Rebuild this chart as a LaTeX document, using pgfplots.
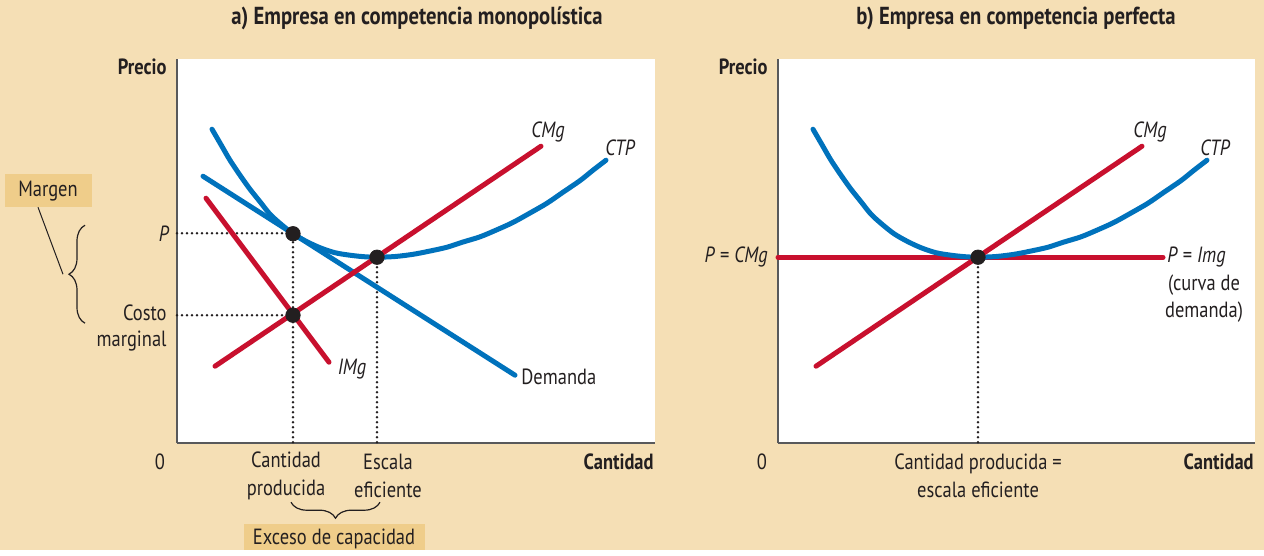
\documentclass[border=0pt]{standalone}
\usepackage{pgfplots}
\pgfplotsset{compat=1.18}
\usepackage{fontspec}
\setmainfont{PT Sans}[FakeStretch=0.84]
\usetikzlibrary{decorations.pathreplacing}

\definecolor{bg}{RGB}{245,223,181}
\definecolor{boxc}{RGB}{239,205,138}
\definecolor{cblue}{RGB}{0,114,188}
\definecolor{cred}{RGB}{200,16,46}
\definecolor{axgray}{RGB}{88,89,91}
\definecolor{txt}{RGB}{35,31,32}

\newcommand{\fs}{\fontsize{11}{14}\selectfont}
\tikzset{
  curve/.style={line width=2.5pt, line cap=round, smooth},
  dotl/.style={draw=txt, line width=1.3pt, dash pattern=on 0pt off 2.5pt, line cap=round},
  tight/.style={inner sep=0pt},
}
\pgfplotsset{
  panel/.style={
    scale only axis, clip=false,
    ymin=107, ymax=491,
    xtick=\empty, ytick=\empty,
    axis x line*=bottom, axis y line*=left,
    axis line style={-, draw=axgray, line width=1pt},
    axis background/.style={fill=white},
  },
  dots/.style={only marks, mark=*, mark size=3.6pt, mark options={fill=txt, draw=txt}},
}

\begin{document}
\begin{tikzpicture}[font=\fs, text=txt]
\fill[bg] (0,0) rectangle (632pt,275pt);

% ---- a) competencia monopolistica ----
\begin{axis}[panel, at={(88.5pt,53.5pt)}, anchor=south west,
    width=239pt, height=192pt, xmin=177, xmax=655]

\draw[dotl] (axis cs:177,317) -- (axis cs:293,317) -- (axis cs:293,107);
\draw[dotl] (axis cs:177,235) -- (axis cs:293,235);
\draw[dotl] (axis cs:377,293) -- (axis cs:377,107);

% demanda
\addplot[curve, cblue] coordinates {(203,374) (515,175)};
% CTP
\addplot[curve, cblue] coordinates {
  (212,421) (221,405.5) (230,390) (240,375) (250,361) (260,348.5) (270,336)
  (281,326) (293,316.5) (306,309) (320,302.5) (335,297.5) (350,295) (364,293.5)
  (377,293) (395,293.7) (413,295.9) (430,299.2) (447,303) (463,308.2) (480,313.4)
  (497,320.5) (513,327.8) (530,337.2) (547,347) (563,358) (580,369.6) (593,380)
  (606,390)};
% CMg
\addplot[curve, cred] coordinates {(215,184) (541,404)};
% IMg
\addplot[curve, cred] coordinates {(206,352) (329,188)};
% puntos
\addplot[dots] coordinates {(293,316.5) (293,235) (377,293)};

\node[font=\fs\itshape] at (axis cs:548,418) {CMg};
\node[font=\fs\itshape] at (axis cs:620,402) {CTP};
\node[font=\fs\itshape] at (axis cs:352,181) {IMg};
\node[tight, anchor=west] at (axis cs:521,173) {Demanda};

\node[tight, anchor=east, font=\fs\bfseries] at (axis cs:167,483) {Precio};
\node[tight, anchor=east, font=\fs\itshape] at (axis cs:169,317) {P};
\node[tight, anchor=east, align=right, font=\fontsize{11}{13}\selectfont] at (axis cs:167,222) {Costo\\marginal};
\node at (axis cs:160,88) {0};
\node[align=center] at (axis cs:286,74) {Cantidad\\producida};
\node[align=center] at (axis cs:388,74) {Escala\\eficiente};
\node[tight, anchor=east, font=\fs\bfseries] at (axis cs:654,88) {Cantidad};

\node[font=\fontsize{12.3}{14}\selectfont\bfseries] at (axis cs:417,532)
  {a) Empresa en competencia monopolística};

% margen
\fill[boxc] (axis cs:5,343) rectangle (axis cs:92,376);
\node at (axis cs:48,359) {Margen};
\draw[txt, line width=0.5pt] (axis cs:38,343) -- (axis cs:63,276);
\draw[txt, line width=0.6pt, decorate, decoration={brace, amplitude=8pt}]
  (axis cs:85,227) -- (axis cs:85,325);

% exceso de capacidad
\draw[txt, line width=0.6pt, decorate, decoration={brace, amplitude=8pt}]
  (axis cs:380,48) -- (axis cs:291,48);
\fill[boxc] (axis cs:244,0) rectangle (axis cs:425,26);
\node at (axis cs:334,11) {Exceso de capacidad};
\end{axis}

% ---- b) competencia perfecta ----
\begin{axis}[panel, at={(389pt,53.5pt)}, anchor=south west,
    width=238.5pt, height=192pt, xmin=778, xmax=1255]

\draw[dotl] (axis cs:978,293) -- (axis cs:978,107);

% P = Img
\addplot[curve, cred] coordinates {(778,293) (1163,293)};
% CTP
\addplot[curve, cblue] coordinates {
  (813,421) (822,405.5) (831,390) (841,375) (851,361) (861,348.5) (871,336)
  (882,326) (894,316.5) (907,309) (921,302.5) (936,297.5) (951,295) (965,293.5)
  (978,293) (996,293.7) (1014,295.9) (1031,299.2) (1048,303) (1064,308.2) (1081,313.4)
  (1098,320.5) (1114,327.8) (1131,337.2) (1148,347) (1164,358) (1181,369.6) (1194,380)
  (1207,390)};
% CMg
\addplot[curve, cred] coordinates {(816,184) (1142,404)};
\addplot[dots] coordinates {(978,293)};

\node[font=\fs\itshape] at (axis cs:1150,418) {CMg};
\node[font=\fs\itshape] at (axis cs:1215,402) {CTP};
\node[tight, anchor=west] at (axis cs:1167,293) {\textit{P} = \textit{Img}};
\node[align=center, font=\fontsize{11}{13.5}\selectfont] at (axis cs:1204,252) {(curva de\\demanda)};

\node[tight, anchor=east, font=\fs\bfseries] at (axis cs:768,483) {Precio};
\node[tight, anchor=east] at (axis cs:768,293) {\textit{P} = \textit{CMg}};
\node at (axis cs:762,88) {0};
\node[align=center] at (axis cs:978,74) {Cantidad producida =\\escala eficiente};
\node[tight, anchor=east, font=\fs\bfseries] at (axis cs:1254,88) {Cantidad};

\node[font=\fontsize{12.3}{14}\selectfont\bfseries] at (axis cs:1016,532)
  {b) Empresa en competencia perfecta};
\end{axis}
\end{tikzpicture}
\end{document}
